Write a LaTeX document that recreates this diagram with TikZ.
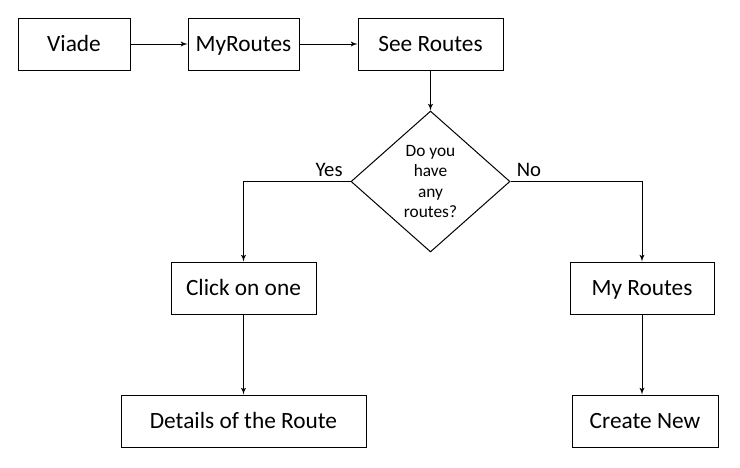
\documentclass[tikz,border=0pt]{standalone}
\usepackage{fontspec}
\setmainfont{Carlito}
\usepackage{tikz}
\usetikzlibrary{arrows,positioning,shapes.geometric}

\begin{document}
\begin{tikzpicture}[->,>=latex',line width=0.75pt,
                    box node/.style={rectangle,draw,minimum height=39pt,inner sep=0pt,text height=11.5pt,text depth=0.3pt,font=\fontsize{17.5}{21}\selectfont},
                    decision node/.style={diamond,draw,minimum width=119.25pt,minimum height=105.75pt,inner sep=0pt,align=center,font=\fontsize{13}{15.5}\selectfont},
                    label node/.style={font=\fontsize{15.5}{18}\selectfont}]
                    \useasboundingbox (0,0) rectangle (555pt,-351pt);
                    \node[box node,minimum width=84pt] (viade) at (55.5pt,-33pt) {Viade};
                    \node[box node,minimum width=83.25pt] (myroutes) [right=42.75pt of viade] {MyRoutes};
                    \node[box node,minimum width=108.75pt] (seeroutes) [right=43.5pt of myroutes] {See Routes};
                    \node[decision node] (question) [below=30pt of seeroutes] {Do you\\have\\any\\routes?};
                    \node[box node,minimum width=108.75pt] (clickone) [below=143.25pt of myroutes] {Click on one};
                    \node[box node,minimum width=183.75pt] (details) [below=60pt of clickone] {Details of the Route};
                    \node[box node,minimum width=108pt] (myroutesb) [right=189.75pt of clickone] {My Routes};
                    \node[box node,minimum width=109.5pt,xshift=2.25pt] (createnew) [below=60pt of myroutesb] {Create New};
                    \path[draw]
                        (viade) -- (myroutes);
                    \draw (myroutes) -- (seeroutes);
                    \draw (seeroutes) -- (question);
                    \draw (question.west) -| node[label node,above,pos=0.1] {Yes} (clickone);
                    \draw (question.east) -| node[label node,above,pos=0.07] {No} (myroutesb);
                    \draw (clickone) -- (details);
                    \draw (myroutesb.south) -- (myroutesb.south |- createnew.north);
                \end{tikzpicture}
\end{document}
